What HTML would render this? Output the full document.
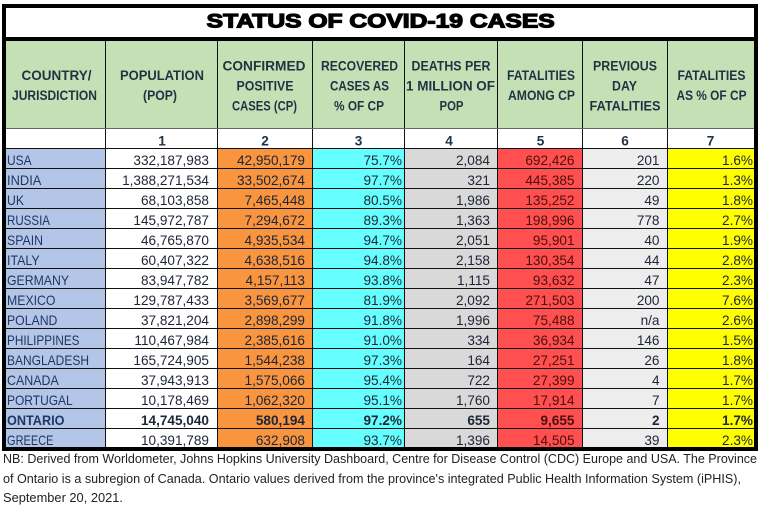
<!DOCTYPE html>
<html>
<head>
<meta charset="utf-8">
<style>
html,body{margin:0;padding:0;background:#fff;}
svg{display:block;}
text{font-family:"Liberation Sans",sans-serif;}
</style>
</head>
<body>
<svg width="763" height="506" viewBox="0 0 763 506" xmlns="http://www.w3.org/2000/svg">
<rect x="0" y="0" width="763" height="506" fill="#fff"/>

<rect x="6" y="41" width="748" height="87" fill="#c5e0b4"/>
<rect x="6" y="128" width="748" height="20" fill="#fff"/>

<rect x="6" y="148" width="99" height="300" fill="#b4c6e7"/>
<rect x="105" y="148" width="112" height="300" fill="#ffffff"/>
<rect x="217" y="148" width="95" height="300" fill="#f9953f"/>
<rect x="312" y="148" width="92" height="300" fill="#66ffff"/>
<rect x="404" y="148" width="93" height="300" fill="#d9d9d9"/>
<rect x="497" y="148" width="85" height="300" fill="#ff4f4f"/>
<rect x="582" y="148" width="85" height="300" fill="#ededed"/>
<rect x="667" y="148" width="87" height="300" fill="#ffff00"/>

<g fill="#111">
<rect x="105" y="41" width="1" height="407"/>
<rect x="217" y="41" width="1" height="407"/>
<rect x="312" y="41" width="1" height="407"/>
<rect x="404" y="41" width="1" height="407"/>
<rect x="497" y="41" width="1" height="407"/>
<rect x="582" y="41" width="1" height="407"/>
<rect x="667" y="41" width="1" height="407"/>
</g>
<rect x="6" y="128" width="748" height="1" fill="#666"/>
<g fill="#111">
<rect x="6" y="148" width="748" height="1"/>
<rect x="6" y="168" width="748" height="1"/>
<rect x="6" y="188" width="748" height="1"/>
<rect x="6" y="208" width="748" height="1"/>
<rect x="6" y="228" width="748" height="1"/>
<rect x="6" y="248" width="748" height="1"/>
<rect x="6" y="268" width="748" height="1"/>
<rect x="6" y="288" width="748" height="1"/>
<rect x="6" y="308" width="748" height="1"/>
<rect x="6" y="328" width="748" height="1"/>
<rect x="6" y="348" width="748" height="1"/>
<rect x="6" y="368" width="748" height="1"/>
<rect x="6" y="388" width="748" height="1"/>
<rect x="6" y="408" width="748" height="1"/>
<rect x="6" y="428" width="748" height="1"/>
</g>

<rect x="6" y="37" width="748" height="4" fill="#000"/>
<rect x="4" y="6" width="752" height="443" fill="none" stroke="#000" stroke-width="4"/>

<text x="206.7" y="27.5" font-size="19" font-weight="bold" fill="#000" stroke="#000" stroke-width="1.2" textLength="348" lengthAdjust="spacingAndGlyphs">STATUS OF COVID-19 CASES</text>

<g font-size="13.5" font-weight="bold" fill="#1f3344">
<text x="21.5" y="80" textLength="70" lengthAdjust="spacingAndGlyphs">COUNTRY/</text>
<text x="12" y="100" textLength="85" lengthAdjust="spacingAndGlyphs">JURISDICTION</text>
<text x="120" y="80" textLength="84" lengthAdjust="spacingAndGlyphs">POPULATION</text>
<text x="143" y="100" textLength="34" lengthAdjust="spacingAndGlyphs">(POP)</text>
<text x="222.5" y="70.5" textLength="83" lengthAdjust="spacingAndGlyphs">CONFIRMED</text>
<text x="236.5" y="90.5" textLength="57" lengthAdjust="spacingAndGlyphs">POSITIVE</text>
<text x="232" y="110.5" textLength="65" lengthAdjust="spacingAndGlyphs">CASES (CP)</text>
<text x="321" y="70.5" textLength="77" lengthAdjust="spacingAndGlyphs">RECOVERED</text>
<text x="330" y="90.5" textLength="59" lengthAdjust="spacingAndGlyphs">CASES AS</text>
<text x="334" y="110.5" textLength="50" lengthAdjust="spacingAndGlyphs">% OF CP</text>
<text x="411.5" y="70.5" textLength="79" lengthAdjust="spacingAndGlyphs">DEATHS PER</text>
<text x="406" y="90.5" textLength="89" lengthAdjust="spacingAndGlyphs">1 MILLION OF</text>
<text x="439.5" y="110.5" textLength="24" lengthAdjust="spacingAndGlyphs">POP</text>
<text x="507" y="80" textLength="68" lengthAdjust="spacingAndGlyphs">FATALITIES</text>
<text x="508" y="100" textLength="67" lengthAdjust="spacingAndGlyphs">AMONG CP</text>
<text x="593" y="70.5" textLength="64" lengthAdjust="spacingAndGlyphs">PREVIOUS</text>
<text x="612" y="90.5" textLength="25" lengthAdjust="spacingAndGlyphs">DAY</text>
<text x="589.5" y="110.5" textLength="71" lengthAdjust="spacingAndGlyphs">FATALITIES</text>
<text x="677.5" y="80" textLength="68" lengthAdjust="spacingAndGlyphs">FATALITIES</text>
<text x="676.5" y="100" textLength="70" lengthAdjust="spacingAndGlyphs">AS % OF CP</text>
</g>

<g font-size="13.6" font-weight="bold" fill="#1f3344" text-anchor="middle">
<text x="162" y="145.5">1</text>
<text x="265" y="145.5">2</text>
<text x="358.5" y="145.5">3</text>
<text x="449" y="145.5">4</text>
<text x="540.5" y="145.5">5</text>
<text x="625" y="145.5">6</text>
<text x="710.5" y="145.5">7</text>
</g>

<g font-size="13.6" fill="#1f3763">
<text x="7" y="165" textLength="24.6" lengthAdjust="spacingAndGlyphs">USA</text>
<text x="7" y="185" textLength="34.4" lengthAdjust="spacingAndGlyphs">INDIA</text>
<text x="7" y="205" textLength="17" lengthAdjust="spacingAndGlyphs">UK</text>
<text x="7" y="225" textLength="43" lengthAdjust="spacingAndGlyphs">RUSSIA</text>
<text x="7" y="245" textLength="36" lengthAdjust="spacingAndGlyphs">SPAIN</text>
<text x="7" y="265" textLength="32.6" lengthAdjust="spacingAndGlyphs">ITALY</text>
<text x="7" y="285" textLength="62" lengthAdjust="spacingAndGlyphs">GERMANY</text>
<text x="7" y="305" textLength="48.5" lengthAdjust="spacingAndGlyphs">MEXICO</text>
<text x="7" y="325" textLength="50.4" lengthAdjust="spacingAndGlyphs">POLAND</text>
<text x="7" y="345" textLength="72.5" lengthAdjust="spacingAndGlyphs">PHILIPPINES</text>
<text x="7" y="365" textLength="82" lengthAdjust="spacingAndGlyphs">BANGLADESH</text>
<text x="7" y="385" textLength="51.8" lengthAdjust="spacingAndGlyphs">CANADA</text>
<text x="7" y="405" textLength="65.7" lengthAdjust="spacingAndGlyphs">PORTUGAL</text>
<text x="7" y="425" font-weight="bold" textLength="57.5" lengthAdjust="spacingAndGlyphs">ONTARIO</text>
<text x="7" y="445" textLength="46.5" lengthAdjust="spacingAndGlyphs">GREECE</text>
</g>

<g font-size="13.6" fill="#1e2536" text-anchor="end">
<text x="209" y="165">332,187,983</text>
<text x="209" y="185">1,388,271,534</text>
<text x="209" y="205">68,103,858</text>
<text x="209" y="225">145,972,787</text>
<text x="209" y="245">46,765,870</text>
<text x="209" y="265">60,407,322</text>
<text x="209" y="285">83,947,782</text>
<text x="209" y="305">129,787,433</text>
<text x="209" y="325">37,821,204</text>
<text x="209" y="345">110,467,984</text>
<text x="209" y="365">165,724,905</text>
<text x="209" y="385">37,943,913</text>
<text x="209" y="405">10,178,469</text>
<text x="209" y="425" font-weight="bold">14,745,040</text>
<text x="209" y="445">10,391,789</text>
<text x="305" y="165">42,950,179</text>
<text x="305" y="185">33,502,674</text>
<text x="305" y="205">7,465,448</text>
<text x="305" y="225">7,294,672</text>
<text x="305" y="245">4,935,534</text>
<text x="305" y="265">4,638,516</text>
<text x="305" y="285">4,157,113</text>
<text x="305" y="305">3,569,677</text>
<text x="305" y="325">2,898,299</text>
<text x="305" y="345">2,385,616</text>
<text x="305" y="365">1,544,238</text>
<text x="305" y="385">1,575,066</text>
<text x="305" y="405">1,062,320</text>
<text x="305" y="425" font-weight="bold">580,194</text>
<text x="305" y="445">632,908</text>
<text x="402" y="165">75.7%</text>
<text x="402" y="185">97.7%</text>
<text x="402" y="205">80.5%</text>
<text x="402" y="225">89.3%</text>
<text x="402" y="245">94.7%</text>
<text x="402" y="265">94.8%</text>
<text x="402" y="285">93.8%</text>
<text x="402" y="305">81.9%</text>
<text x="402" y="325">91.8%</text>
<text x="402" y="345">91.0%</text>
<text x="402" y="365">97.3%</text>
<text x="402" y="385">95.4%</text>
<text x="402" y="405">95.1%</text>
<text x="402" y="425" font-weight="bold">97.2%</text>
<text x="402" y="445">93.7%</text>
<text x="490" y="165">2,084</text>
<text x="490" y="185">321</text>
<text x="490" y="205">1,986</text>
<text x="490" y="225">1,363</text>
<text x="490" y="245">2,051</text>
<text x="490" y="265">2,158</text>
<text x="490" y="285">1,115</text>
<text x="490" y="305">2,092</text>
<text x="490" y="325">1,996</text>
<text x="490" y="345">334</text>
<text x="490" y="365">164</text>
<text x="490" y="385">722</text>
<text x="490" y="405">1,760</text>
<text x="490" y="425" font-weight="bold">655</text>
<text x="490" y="445">1,396</text>
<text x="659.5" y="165">201</text>
<text x="659.5" y="185">220</text>
<text x="659.5" y="205">49</text>
<text x="659.5" y="225">778</text>
<text x="659.5" y="245">40</text>
<text x="659.5" y="265">44</text>
<text x="659.5" y="285">47</text>
<text x="659.5" y="305">200</text>
<text x="659.5" y="325">n/a</text>
<text x="659.5" y="345">146</text>
<text x="659.5" y="365">26</text>
<text x="659.5" y="385">4</text>
<text x="659.5" y="405">7</text>
<text x="659.5" y="425" font-weight="bold">2</text>
<text x="659.5" y="445">39</text>
<text x="753" y="165">1.6%</text>
<text x="753" y="185">1.3%</text>
<text x="753" y="205">1.8%</text>
<text x="753" y="225">2.7%</text>
<text x="753" y="245">1.9%</text>
<text x="753" y="265">2.8%</text>
<text x="753" y="285">2.3%</text>
<text x="753" y="305">7.6%</text>
<text x="753" y="325">2.6%</text>
<text x="753" y="345">1.5%</text>
<text x="753" y="365">1.8%</text>
<text x="753" y="385">1.7%</text>
<text x="753" y="405">1.7%</text>
<text x="753" y="425" font-weight="bold">1.7%</text>
<text x="753" y="445">2.3%</text>
</g>
<g font-size="13.6" fill="#4d0f0f" text-anchor="end">
<text x="574.5" y="165">692,426</text>
<text x="574.5" y="185">445,385</text>
<text x="574.5" y="205">135,252</text>
<text x="574.5" y="225">198,996</text>
<text x="574.5" y="245">95,901</text>
<text x="574.5" y="265">130,354</text>
<text x="574.5" y="285">93,632</text>
<text x="574.5" y="305">271,503</text>
<text x="574.5" y="325">75,488</text>
<text x="574.5" y="345">36,934</text>
<text x="574.5" y="365">27,251</text>
<text x="574.5" y="385">27,399</text>
<text x="574.5" y="405">17,914</text>
<text x="574.5" y="425" font-weight="bold">9,655</text>
<text x="574.5" y="445">14,505</text>
</g>

<g font-size="12.8" fill="#222">
<text x="3" y="463" textLength="754" lengthAdjust="spacingAndGlyphs">NB: Derived from Worldometer, Johns Hopkins University Dashboard, Centre for Disease Control (CDC) Europe and USA. The Province</text>
<text x="3" y="483" textLength="738" lengthAdjust="spacingAndGlyphs">of Ontario is a subregion of Canada. Ontario values derived from the province's integrated Public Health Information System (iPHIS),</text>
<text x="3" y="502" textLength="120" lengthAdjust="spacingAndGlyphs">September 20, 2021.</text>
</g>
</svg>
</body>
</html>
